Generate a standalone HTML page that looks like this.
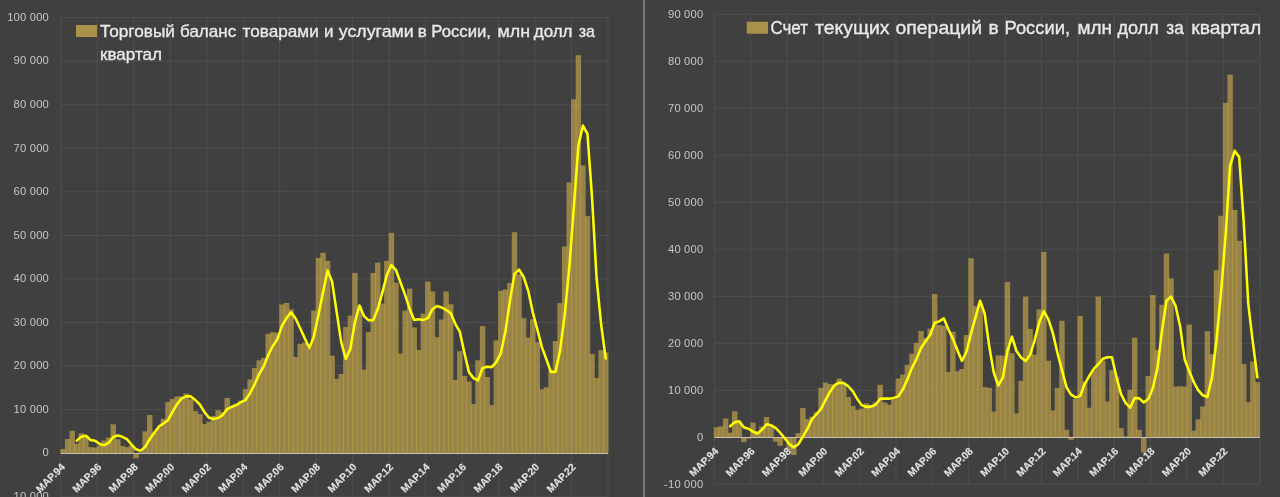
<!DOCTYPE html>
<html lang="ru"><head><meta charset="utf-8"><title>Торговый баланс и счет текущих операций России</title>
<style>html,body{margin:0;padding:0;background:#404040;overflow:hidden}svg{display:block;font-family:"Liberation Sans",sans-serif}</style>
</head><body>
<svg width="1280" height="497" viewBox="0 0 1280 497">
<rect width="1280" height="497" fill="#404040"/>
<svg x="0" y="0" width="643" height="497" viewBox="0 0 643 497" overflow="hidden">
<path d="M60.8 496.81H608M60.8 453.25H608M60.8 409.69H608M60.8 366.13H608M60.8 322.57H608M60.8 279.01H608M60.8 235.45H608M60.8 191.89H608M60.8 148.33H608M60.8 104.77H608M60.8 61.21H608M60.8 17.65H608M60.8 17.65V497M97.28 17.65V497M133.76 17.65V497M170.24 17.65V497M206.72 17.65V497M243.2 17.65V497M279.68 17.65V497M316.16 17.65V497M352.64 17.65V497M389.12 17.65V497M425.6 17.65V497M462.08 17.65V497M498.56 17.65V497M535.04 17.65V497M571.52 17.65V497M608 17.65V497" stroke="#4e4e4e" stroke-width="1" fill="none"/>
<g fill="rgb(186,158,72)" fill-opacity="0.72"><rect x="60.35" y="449.02" width="5.46" height="4.23"/><rect x="64.91" y="439.01" width="5.46" height="14.24"/><rect x="69.47" y="430.73" width="5.46" height="22.52"/><rect x="74.03" y="443.71" width="5.46" height="9.54"/><rect x="78.59" y="433.21" width="5.46" height="20.04"/><rect x="83.15" y="435.39" width="5.46" height="17.86"/><rect x="87.71" y="447.2" width="5.46" height="6.05"/><rect x="92.27" y="447.43" width="5.46" height="5.82"/><rect x="96.83" y="445.58" width="5.46" height="7.67"/><rect x="101.39" y="440.62" width="5.46" height="12.63"/><rect x="105.95" y="437.57" width="5.46" height="15.68"/><rect x="110.51" y="424.28" width="5.46" height="28.97"/><rect x="115.07" y="439.31" width="5.46" height="13.94"/><rect x="119.63" y="445.95" width="5.46" height="7.3"/><rect x="124.19" y="447.2" width="5.46" height="6.05"/><rect x="128.75" y="445.58" width="5.46" height="7.67"/><rect x="133.31" y="453.25" width="5.46" height="5.07"/><rect x="137.87" y="452.38" width="5.46" height="0.87"/><rect x="142.43" y="431.34" width="5.46" height="21.91"/><rect x="146.99" y="414.92" width="5.46" height="38.33"/><rect x="151.55" y="432.34" width="5.46" height="20.91"/><rect x="156.11" y="427.99" width="5.46" height="25.26"/><rect x="160.67" y="418.84" width="5.46" height="34.41"/><rect x="165.23" y="402.07" width="5.46" height="51.18"/><rect x="169.79" y="398.93" width="5.46" height="54.32"/><rect x="174.35" y="396.4" width="5.46" height="56.85"/><rect x="178.91" y="396.4" width="5.46" height="56.85"/><rect x="183.47" y="393.53" width="5.46" height="59.72"/><rect x="188.03" y="399.24" width="5.46" height="54.01"/><rect x="192.59" y="411.08" width="5.46" height="42.17"/><rect x="197.15" y="414.2" width="5.46" height="39.05"/><rect x="201.71" y="423.98" width="5.46" height="29.27"/><rect x="206.27" y="421.71" width="5.46" height="31.54"/><rect x="210.83" y="416.09" width="5.46" height="37.16"/><rect x="215.39" y="410.19" width="5.46" height="43.06"/><rect x="219.95" y="412.3" width="5.46" height="40.95"/><rect x="224.51" y="397.93" width="5.46" height="55.32"/><rect x="229.07" y="406.68" width="5.46" height="46.57"/><rect x="233.63" y="403.59" width="5.46" height="49.66"/><rect x="238.19" y="400.67" width="5.46" height="52.58"/><rect x="242.75" y="389.17" width="5.46" height="64.08"/><rect x="247.31" y="379.39" width="5.46" height="73.86"/><rect x="251.87" y="368.09" width="5.46" height="85.16"/><rect x="256.43" y="360.25" width="5.46" height="93"/><rect x="260.99" y="357.85" width="5.46" height="95.4"/><rect x="265.55" y="333.9" width="5.46" height="119.35"/><rect x="270.11" y="332.15" width="5.46" height="121.1"/><rect x="274.67" y="332.81" width="5.46" height="120.44"/><rect x="279.23" y="304.49" width="5.46" height="148.76"/><rect x="283.79" y="302.97" width="5.46" height="150.28"/><rect x="288.35" y="309.28" width="5.46" height="143.97"/><rect x="292.91" y="356.98" width="5.46" height="96.27"/><rect x="297.47" y="343.91" width="5.46" height="109.34"/><rect x="302.03" y="342.61" width="5.46" height="110.64"/><rect x="306.59" y="348.71" width="5.46" height="104.54"/><rect x="311.15" y="310.59" width="5.46" height="142.66"/><rect x="315.71" y="257.88" width="5.46" height="195.37"/><rect x="320.27" y="252.87" width="5.46" height="200.38"/><rect x="324.83" y="260.93" width="5.46" height="192.32"/><rect x="329.39" y="355.68" width="5.46" height="97.57"/><rect x="333.95" y="378.89" width="5.46" height="74.36"/><rect x="338.51" y="373.97" width="5.46" height="79.28"/><rect x="343.07" y="326.93" width="5.46" height="126.32"/><rect x="347.63" y="315.6" width="5.46" height="137.65"/><rect x="352.19" y="272.91" width="5.46" height="180.34"/><rect x="356.75" y="306.45" width="5.46" height="146.8"/><rect x="361.31" y="369.61" width="5.46" height="83.64"/><rect x="365.87" y="332.15" width="5.46" height="121.1"/><rect x="370.43" y="272.91" width="5.46" height="180.34"/><rect x="374.99" y="262.68" width="5.46" height="190.57"/><rect x="379.55" y="303.62" width="5.46" height="149.63"/><rect x="384.11" y="260.93" width="5.46" height="192.32"/><rect x="388.67" y="232.84" width="5.46" height="220.41"/><rect x="393.23" y="282.71" width="5.46" height="170.54"/><rect x="397.79" y="353.5" width="5.46" height="99.75"/><rect x="402.35" y="310.59" width="5.46" height="142.66"/><rect x="406.91" y="288.59" width="5.46" height="164.66"/><rect x="411.47" y="327.36" width="5.46" height="125.89"/><rect x="416.03" y="350.01" width="5.46" height="103.24"/><rect x="420.59" y="313.64" width="5.46" height="139.61"/><rect x="425.15" y="281.62" width="5.46" height="171.63"/><rect x="429.71" y="291.42" width="5.46" height="161.83"/><rect x="434.27" y="337.16" width="5.46" height="116.09"/><rect x="438.83" y="319.52" width="5.46" height="133.73"/><rect x="443.39" y="291.42" width="5.46" height="161.83"/><rect x="447.95" y="304.27" width="5.46" height="148.98"/><rect x="452.51" y="379.85" width="5.46" height="73.4"/><rect x="457.07" y="351.23" width="5.46" height="102.02"/><rect x="461.63" y="375.93" width="5.46" height="77.32"/><rect x="466.19" y="381.46" width="5.46" height="71.79"/><rect x="470.75" y="403.9" width="5.46" height="49.35"/><rect x="475.31" y="360.25" width="5.46" height="93"/><rect x="479.87" y="326.05" width="5.46" height="127.2"/><rect x="484.43" y="377.02" width="5.46" height="76.23"/><rect x="488.99" y="405.16" width="5.46" height="48.09"/><rect x="493.55" y="340.43" width="5.46" height="112.82"/><rect x="498.11" y="290.77" width="5.46" height="162.48"/><rect x="502.67" y="289.46" width="5.46" height="163.79"/><rect x="507.23" y="282.93" width="5.46" height="170.32"/><rect x="511.79" y="232.18" width="5.46" height="221.07"/><rect x="516.35" y="274.22" width="5.46" height="179.03"/><rect x="520.91" y="318.21" width="5.46" height="135.04"/><rect x="525.47" y="337.6" width="5.46" height="115.65"/><rect x="530.03" y="319.3" width="5.46" height="133.95"/><rect x="534.59" y="342.17" width="5.46" height="111.08"/><rect x="539.15" y="389.3" width="5.46" height="63.95"/><rect x="543.71" y="387.21" width="5.46" height="66.04"/><rect x="548.27" y="369.61" width="5.46" height="83.64"/><rect x="552.83" y="341.08" width="5.46" height="112.17"/><rect x="557.39" y="303.06" width="5.46" height="150.19"/><rect x="561.95" y="246.47" width="5.46" height="206.78"/><rect x="566.51" y="182.39" width="5.46" height="270.86"/><rect x="571.07" y="99.28" width="5.46" height="353.97"/><rect x="575.63" y="55.2" width="5.46" height="398.05"/><rect x="580.19" y="165.36" width="5.46" height="287.89"/><rect x="584.75" y="216.07" width="5.46" height="237.18"/><rect x="589.31" y="353.93" width="5.46" height="99.32"/><rect x="593.87" y="378.02" width="5.46" height="75.23"/><rect x="598.43" y="350.01" width="5.46" height="103.24"/><rect x="602.99" y="352.41" width="5.46" height="100.84"/></g>
<path d="M60.8 453.5H608" stroke="#d8d4c4" stroke-width="1" stroke-opacity=".85"/>
<path d="M76.76 440.62C76.76 440.62 81.32 436.66 81.32 436.66C81.32 436.66 85.88 435.76 85.88 435.76C85.88 435.76 90.44 439.88 90.44 439.88C90.44 439.88 95 440.81 95 440.81C95 440.81 99.56 443.9 99.56 443.9C99.56 443.9 104.12 445.21 104.12 445.21C104.12 445.21 108.68 442.8 108.68 442.8C108.68 442.8 113.24 437.01 113.24 437.01C113.24 437.01 117.8 435.44 117.8 435.44C117.8 435.44 122.36 436.78 122.36 436.78C122.36 436.78 126.92 439.19 126.92 439.19C126.92 439.19 131.48 444.51 131.48 444.51C131.48 444.51 136.04 449.26 136.04 449.26C136.04 449.26 140.6 450.87 140.6 450.87C140.6 450.87 145.16 446.91 145.16 446.91C145.16 446.91 149.72 439.24 149.72 439.24C149.72 439.24 154.28 432.74 154.28 432.74C154.28 432.74 158.84 426.65 158.84 426.65C158.84 426.65 163.4 423.52 163.4 423.52C163.4 423.52 167.96 420.31 167.96 420.31C167.96 420.31 172.52 411.96 172.52 411.96C172.52 411.96 177.08 404.06 177.08 404.06C177.08 404.06 181.64 398.45 181.64 398.45C181.64 398.45 186.2 396.32 186.2 396.32C186.2 396.32 190.76 396.39 190.76 396.39C190.76 396.39 195.32 400.06 195.32 400.06C195.32 400.06 199.88 404.51 199.88 404.51C199.88 404.51 204.44 412.12 204.44 412.12C204.44 412.12 209 417.74 209 417.74C209 417.74 213.56 419 213.56 419C213.56 419 218.12 417.99 218.12 417.99C218.12 417.99 222.68 415.08 222.68 415.08C222.68 415.08 227.24 409.13 227.24 409.13C227.24 409.13 231.8 406.78 231.8 406.78C231.8 406.78 236.36 405.13 236.36 405.13C236.36 405.13 240.92 402.22 240.92 402.22C240.92 402.22 245.48 400.03 245.48 400.03C245.48 400.03 250.04 393.21 250.04 393.21C250.04 393.21 254.6 384.33 254.6 384.33C254.6 384.33 259.16 374.23 259.16 374.23C259.16 374.23 263.72 366.4 263.72 366.4C263.72 366.4 268.28 355.02 268.28 355.02C268.28 355.02 272.84 346.04 272.84 346.04C272.84 346.04 277.4 339.18 277.4 339.18C277.4 339.18 281.96 325.84 281.96 325.84C281.96 325.84 286.52 318.11 286.52 318.11C286.52 318.11 291.08 312.39 291.08 312.39C291.08 312.39 295.64 318.43 295.64 318.43C295.64 318.43 300.2 328.29 300.2 328.29C300.2 328.29 304.76 338.2 304.76 338.2C304.76 338.2 309.32 348.05 309.32 348.05C309.32 348.05 313.88 336.45 313.88 336.45C313.88 336.45 318.44 314.95 318.44 314.95C318.44 314.95 323 292.51 323 292.51C323 292.51 327.56 270.57 327.56 270.57C327.56 270.57 332.12 281.84 332.12 281.84C332.12 281.84 336.68 312.09 336.68 312.09C336.68 312.09 341.24 342.37 341.24 342.37C341.24 342.37 345.8 358.87 345.8 358.87C345.8 358.87 350.36 348.85 350.36 348.85C350.36 348.85 354.92 322.35 354.92 322.35C354.92 322.35 359.48 305.47 359.48 305.47C359.48 305.47 364.04 316.14 364.04 316.14C364.04 316.14 368.6 320.28 368.6 320.28C368.6 320.28 373.16 320.28 373.16 320.28C373.16 320.28 377.72 309.34 377.72 309.34C377.72 309.34 382.28 292.84 382.28 292.84C382.28 292.84 386.84 275.04 386.84 275.04C386.84 275.04 391.4 265.02 391.4 265.02C391.4 265.02 395.96 270.03 395.96 270.03C395.96 270.03 400.52 282.49 400.52 282.49C400.52 282.49 405.08 294.91 405.08 294.91C405.08 294.91 409.64 308.85 409.64 308.85C409.64 308.85 414.2 320.01 414.2 320.01C414.2 320.01 418.76 319.14 418.76 319.14C418.76 319.14 423.32 319.9 423.32 319.9C423.32 319.9 427.88 318.16 427.88 318.16C427.88 318.16 432.44 309.18 432.44 309.18C432.44 309.18 437 305.96 437 305.96C437 305.96 441.56 307.43 441.56 307.43C441.56 307.43 446.12 309.88 446.12 309.88C446.12 309.88 450.68 313.1 450.68 313.1C450.68 313.1 455.24 323.77 455.24 323.77C455.24 323.77 459.8 331.7 459.8 331.7C459.8 331.7 464.36 352.82 464.36 352.82C464.36 352.82 468.92 372.12 468.92 372.12C468.92 372.12 473.48 378.13 473.48 378.13C473.48 378.13 478.04 380.39 478.04 380.39C478.04 380.39 482.6 367.92 482.6 367.92C482.6 367.92 487.16 366.81 487.16 366.81C487.16 366.81 491.72 367.12 491.72 367.12C491.72 367.12 496.28 362.17 496.28 362.17C496.28 362.17 500.84 353.35 500.84 353.35C500.84 353.35 505.4 331.46 505.4 331.46C505.4 331.46 509.96 300.9 509.96 300.9C509.96 300.9 514.52 273.84 514.52 273.84C514.52 273.84 519.08 269.7 519.08 269.7C519.08 269.7 523.64 276.89 523.64 276.89C523.64 276.89 528.2 290.55 528.2 290.55C528.2 290.55 532.76 312.33 532.76 312.33C532.76 312.33 537.32 329.32 537.32 329.32C537.32 329.32 541.88 347.09 541.88 347.09C541.88 347.09 546.44 359.5 546.44 359.5C546.44 359.5 551 372.08 551 372.08C551 372.08 555.56 371.8 555.56 371.8C555.56 371.8 560.12 350.24 560.12 350.24C560.12 350.24 564.68 315.06 564.68 315.06C564.68 315.06 569.24 268.25 569.24 268.25C569.24 268.25 573.8 207.8 573.8 207.8C573.8 207.8 578.36 145.84 578.36 145.84C578.36 145.84 582.92 125.56 582.92 125.56C582.92 125.56 587.48 133.98 587.48 133.98C587.48 133.98 592.04 197.64 592.04 197.64C592.04 197.64 596.6 278.35 596.6 278.35C596.6 278.35 601.16 324.51 601.16 324.51C601.16 324.51 605.72 358.59 605.72 358.59" stroke="#ffff00" stroke-width="2.55" fill="none" stroke-linejoin="round" stroke-linecap="round"/>
<g font-size="11.2" fill="#c6c6c6" text-anchor="end" letter-spacing=".2"><text x="49" y="500.01">-10 000</text><text x="49" y="456.45">0</text><text x="49" y="412.89">10 000</text><text x="49" y="369.33">20 000</text><text x="49" y="325.77">30 000</text><text x="49" y="282.21">40 000</text><text x="49" y="238.65">50 000</text><text x="49" y="195.09">60 000</text><text x="49" y="151.53">70 000</text><text x="49" y="107.97">80 000</text><text x="49" y="64.41">90 000</text><text x="49" y="20.85">100 000</text></g>
<g font-size="10.4" font-weight="bold" fill="#e2e2e2" stroke="#e2e2e2" stroke-width=".12" text-anchor="end"><text transform="translate(65.6 467.75) rotate(-45)">МАР.94</text><text transform="translate(102.08 467.75) rotate(-45)">МАР.96</text><text transform="translate(138.56 467.75) rotate(-45)">МАР.98</text><text transform="translate(175.04 467.75) rotate(-45)">МАР.00</text><text transform="translate(211.52 467.75) rotate(-45)">МАР.02</text><text transform="translate(248 467.75) rotate(-45)">МАР.04</text><text transform="translate(284.48 467.75) rotate(-45)">МАР.06</text><text transform="translate(320.96 467.75) rotate(-45)">МАР.08</text><text transform="translate(357.44 467.75) rotate(-45)">МАР.10</text><text transform="translate(393.92 467.75) rotate(-45)">МАР.12</text><text transform="translate(430.4 467.75) rotate(-45)">МАР.14</text><text transform="translate(466.88 467.75) rotate(-45)">МАР.16</text><text transform="translate(503.36 467.75) rotate(-45)">МАР.18</text><text transform="translate(539.84 467.75) rotate(-45)">МАР.20</text><text transform="translate(576.32 467.75) rotate(-45)">МАР.22</text></g>
<rect x="76" y="25" width="21" height="12" fill="#a99149"/>
<g font-size="17" fill="#e9e9e9" stroke="#e9e9e9" stroke-width=".35"><text x="100" y="37" textLength="75" lengthAdjust="spacingAndGlyphs">Торговый</text><text x="180" y="37" textLength="56.25" lengthAdjust="spacingAndGlyphs">баланс</text><text x="242.5" y="37" textLength="76.25" lengthAdjust="spacingAndGlyphs">товарами</text><text x="328.75" y="37" text-anchor="middle">и</text><text x="338.75" y="37" textLength="75" lengthAdjust="spacingAndGlyphs">услугами</text><text x="422.38" y="37" text-anchor="middle">в</text><text x="431.25" y="37" textLength="59.75" lengthAdjust="spacingAndGlyphs">России,</text><text x="497.5" y="37" textLength="32.5" lengthAdjust="spacingAndGlyphs">млн</text><text x="533.75" y="37" textLength="38.75" lengthAdjust="spacingAndGlyphs">долл</text><text x="578.75" y="37" textLength="16.25" lengthAdjust="spacingAndGlyphs">за</text><text x="100" y="59.75" textLength="62" lengthAdjust="spacingAndGlyphs">квартал</text></g>
</svg>
<rect x="643" y="0" width="2" height="497" fill="#787878"/>
<svg x="645" y="0" width="635" height="497" viewBox="645 0 635 497" overflow="hidden">
<path d="M714.25 484.3H1259.65M714.25 437.3H1259.65M714.25 390.3H1259.65M714.25 343.3H1259.65M714.25 296.3H1259.65M714.25 249.3H1259.65M714.25 202.3H1259.65M714.25 155.3H1259.65M714.25 108.3H1259.65M714.25 61.3H1259.65M714.25 14.3H1259.65M714.25 14.3V484.3M750.61 14.3V484.3M786.97 14.3V484.3M823.33 14.3V484.3M859.69 14.3V484.3M896.05 14.3V484.3M932.41 14.3V484.3M968.77 14.3V484.3M1005.13 14.3V484.3M1041.49 14.3V484.3M1077.85 14.3V484.3M1114.21 14.3V484.3M1150.57 14.3V484.3M1186.93 14.3V484.3M1223.29 14.3V484.3M1259.65 14.3V484.3" stroke="#4e4e4e" stroke-width="1" fill="none"/>
<g fill="rgb(186,158,72)" fill-opacity="0.72"><rect x="713.8" y="427.29" width="5.45" height="10.01"/><rect x="718.34" y="426.4" width="5.45" height="10.9"/><rect x="722.89" y="418.5" width="5.45" height="18.8"/><rect x="727.43" y="432.67" width="5.45" height="4.63"/><rect x="731.98" y="411.26" width="5.45" height="26.04"/><rect x="736.52" y="422.97" width="5.45" height="14.33"/><rect x="741.07" y="437.3" width="5.45" height="4.75"/><rect x="745.62" y="437.3" width="5.45" height="1.27"/><rect x="750.16" y="422.52" width="5.45" height="14.78"/><rect x="754.7" y="431.19" width="5.45" height="6.11"/><rect x="759.25" y="426.49" width="5.45" height="10.81"/><rect x="763.79" y="417" width="5.45" height="20.3"/><rect x="768.34" y="426.49" width="5.45" height="10.81"/><rect x="772.88" y="437.3" width="5.45" height="4.37"/><rect x="777.43" y="437.3" width="5.45" height="8.51"/><rect x="781.97" y="437.3" width="5.45" height="1.41"/><rect x="786.52" y="437.3" width="5.45" height="12.69"/><rect x="791.06" y="437.3" width="5.45" height="17.77"/><rect x="795.61" y="433.16" width="5.45" height="4.14"/><rect x="800.15" y="408.07" width="5.45" height="29.23"/><rect x="804.7" y="419.16" width="5.45" height="18.14"/><rect x="809.24" y="416.62" width="5.45" height="20.68"/><rect x="813.79" y="412.39" width="5.45" height="24.91"/><rect x="818.33" y="387.72" width="5.45" height="49.58"/><rect x="822.88" y="382.55" width="5.45" height="54.75"/><rect x="827.42" y="384.17" width="5.45" height="53.13"/><rect x="831.97" y="385.6" width="5.45" height="51.7"/><rect x="836.51" y="378.53" width="5.45" height="58.77"/><rect x="841.06" y="383.72" width="5.45" height="53.58"/><rect x="845.61" y="397.07" width="5.45" height="40.23"/><rect x="850.15" y="406.09" width="5.45" height="31.21"/><rect x="854.69" y="409.81" width="5.45" height="27.5"/><rect x="859.24" y="408.54" width="5.45" height="28.76"/><rect x="863.78" y="403.32" width="5.45" height="33.98"/><rect x="868.33" y="404.87" width="5.45" height="32.43"/><rect x="872.88" y="402.33" width="5.45" height="34.97"/><rect x="877.42" y="384.8" width="5.45" height="52.5"/><rect x="881.96" y="402.57" width="5.45" height="34.73"/><rect x="886.51" y="404.87" width="5.45" height="32.43"/><rect x="891.05" y="399.47" width="5.45" height="37.83"/><rect x="895.6" y="378.46" width="5.45" height="58.84"/><rect x="900.14" y="374.7" width="5.45" height="62.6"/><rect x="904.69" y="364.78" width="5.45" height="72.52"/><rect x="909.23" y="353.64" width="5.45" height="83.66"/><rect x="913.78" y="342.83" width="5.45" height="94.47"/><rect x="918.32" y="330.99" width="5.45" height="106.31"/><rect x="922.87" y="337.75" width="5.45" height="99.55"/><rect x="927.41" y="328.54" width="5.45" height="108.76"/><rect x="931.96" y="294.04" width="5.45" height="143.26"/><rect x="936.5" y="325.02" width="5.45" height="112.28"/><rect x="941.05" y="325.68" width="5.45" height="111.62"/><rect x="945.59" y="371.97" width="5.45" height="65.33"/><rect x="950.14" y="331.79" width="5.45" height="105.51"/><rect x="954.68" y="371.26" width="5.45" height="66.04"/><rect x="959.23" y="368.96" width="5.45" height="68.34"/><rect x="963.77" y="335.08" width="5.45" height="102.22"/><rect x="968.32" y="258.23" width="5.45" height="179.07"/><rect x="972.87" y="306.17" width="5.45" height="131.13"/><rect x="977.41" y="303.35" width="5.45" height="133.95"/><rect x="981.95" y="387.15" width="5.45" height="50.15"/><rect x="986.5" y="387.79" width="5.45" height="49.51"/><rect x="991.04" y="411.59" width="5.45" height="25.71"/><rect x="995.59" y="355.47" width="5.45" height="81.83"/><rect x="1000.13" y="355.71" width="5.45" height="81.59"/><rect x="1004.68" y="282.01" width="5.45" height="155.29"/><rect x="1009.22" y="353.22" width="5.45" height="84.08"/><rect x="1013.77" y="413.47" width="5.45" height="23.83"/><rect x="1018.31" y="380.9" width="5.45" height="56.4"/><rect x="1022.86" y="296.58" width="5.45" height="140.72"/><rect x="1027.4" y="328.92" width="5.45" height="108.38"/><rect x="1031.95" y="354.72" width="5.45" height="82.58"/><rect x="1036.49" y="309.46" width="5.45" height="127.84"/><rect x="1041.04" y="251.98" width="5.45" height="185.32"/><rect x="1045.58" y="360.69" width="5.45" height="76.61"/><rect x="1050.13" y="410.46" width="5.45" height="26.84"/><rect x="1054.67" y="387.81" width="5.45" height="49.49"/><rect x="1059.22" y="320.83" width="5.45" height="116.47"/><rect x="1063.76" y="429.78" width="5.45" height="7.52"/><rect x="1068.31" y="437.3" width="5.45" height="2.49"/><rect x="1072.86" y="399.07" width="5.45" height="38.23"/><rect x="1077.4" y="315.85" width="5.45" height="121.45"/><rect x="1081.94" y="381.51" width="5.45" height="55.79"/><rect x="1086.49" y="407.78" width="5.45" height="29.52"/><rect x="1091.04" y="370.25" width="5.45" height="67.05"/><rect x="1095.58" y="296.54" width="5.45" height="140.76"/><rect x="1100.12" y="360.69" width="5.45" height="76.61"/><rect x="1104.67" y="401.39" width="5.45" height="35.91"/><rect x="1109.21" y="370.23" width="5.45" height="67.07"/><rect x="1113.76" y="376.53" width="5.45" height="60.77"/><rect x="1118.31" y="428.16" width="5.45" height="9.14"/><rect x="1122.85" y="436.36" width="5.45" height="0.94"/><rect x="1127.39" y="389.69" width="5.45" height="47.61"/><rect x="1131.94" y="337.66" width="5.45" height="99.64"/><rect x="1136.48" y="429.78" width="5.45" height="7.52"/><rect x="1141.03" y="437.3" width="5.45" height="15.27"/><rect x="1145.58" y="375.89" width="5.45" height="61.41"/><rect x="1150.12" y="295.08" width="5.45" height="142.22"/><rect x="1154.66" y="349.88" width="5.45" height="87.42"/><rect x="1159.21" y="304.76" width="5.45" height="132.54"/><rect x="1163.75" y="253.53" width="5.45" height="183.77"/><rect x="1168.3" y="278.3" width="5.45" height="159"/><rect x="1172.85" y="386.54" width="5.45" height="50.76"/><rect x="1177.39" y="386.31" width="5.45" height="51"/><rect x="1181.93" y="386.54" width="5.45" height="50.76"/><rect x="1186.48" y="324.59" width="5.45" height="112.71"/><rect x="1191.02" y="430.67" width="5.45" height="6.63"/><rect x="1195.57" y="419.3" width="5.45" height="18"/><rect x="1200.12" y="406.51" width="5.45" height="30.79"/><rect x="1204.66" y="331.22" width="5.45" height="106.08"/><rect x="1209.2" y="354.35" width="5.45" height="82.95"/><rect x="1213.75" y="270.07" width="5.45" height="167.23"/><rect x="1218.29" y="215.74" width="5.45" height="221.56"/><rect x="1222.84" y="102.8" width="5.45" height="334.5"/><rect x="1227.38" y="74.74" width="5.45" height="362.56"/><rect x="1231.93" y="209.96" width="5.45" height="227.34"/><rect x="1236.47" y="240.79" width="5.45" height="196.51"/><rect x="1241.02" y="363.98" width="5.45" height="73.32"/><rect x="1245.56" y="402.14" width="5.45" height="35.16"/><rect x="1250.11" y="361.49" width="5.45" height="75.81"/><rect x="1254.65" y="382.12" width="5.45" height="55.18"/></g>
<path d="M714.25 437.5H1259.65" stroke="#d8d4c4" stroke-width="1" stroke-opacity=".85"/>
<path d="M730.16 426.21C730.16 426.21 734.7 422.21 734.7 422.21C734.7 422.21 739.25 421.35 739.25 421.35C739.25 421.35 743.79 427.24 743.79 427.24C743.79 427.24 748.34 428.71 748.34 428.71C748.34 428.71 752.88 431.52 752.88 431.52C752.88 431.52 757.43 433.58 757.43 433.58C757.43 433.58 761.97 429.69 761.97 429.69C761.97 429.69 766.52 424.3 766.52 424.3C766.52 424.3 771.06 425.29 771.06 425.29C771.06 425.29 775.61 427.91 775.61 427.91C775.61 427.91 780.15 432.74 780.15 432.74C780.15 432.74 784.7 438.17 784.7 438.17C784.7 438.17 789.24 444.04 789.24 444.04C789.24 444.04 793.79 447.39 793.79 447.39C793.79 447.39 798.33 444.23 798.33 444.23C798.33 444.23 802.88 436.57 802.88 436.57C802.88 436.57 807.42 428.86 807.42 428.86C807.42 428.86 811.97 419.25 811.97 419.25C811.97 419.25 816.51 414.06 816.51 414.06C816.51 414.06 821.06 408.97 821.06 408.97C821.06 408.97 825.6 399.82 825.6 399.82C825.6 399.82 830.15 391.7 830.15 391.7C830.15 391.7 834.69 385.01 834.69 385.01C834.69 385.01 839.24 382.71 839.24 382.71C839.24 382.71 843.78 383 843.78 383C843.78 383 848.33 386.23 848.33 386.23C848.33 386.23 852.87 391.35 852.87 391.35C852.87 391.35 857.42 399.17 857.42 399.17C857.42 399.17 861.96 405.38 861.96 405.38C861.96 405.38 866.51 406.94 866.51 406.94C866.51 406.94 871.05 406.63 871.05 406.63C871.05 406.63 875.6 404.76 875.6 404.76C875.6 404.76 880.14 398.83 880.14 398.83C880.14 398.83 884.69 398.64 884.69 398.64C884.69 398.64 889.23 398.64 889.23 398.64C889.23 398.64 893.78 397.93 893.78 397.93C893.78 397.93 898.32 396.34 898.32 396.34C898.32 396.34 902.87 389.37 902.87 389.37C902.87 389.37 907.41 379.35 907.41 379.35C907.41 379.35 911.96 367.89 911.96 367.89C911.96 367.89 916.5 358.99 916.5 358.99C916.5 358.99 921.05 348.06 921.05 348.06C921.05 348.06 925.59 341.3 925.59 341.3C925.59 341.3 930.14 335.03 930.14 335.03C930.14 335.03 934.68 322.83 934.68 322.83C934.68 322.83 939.23 321.34 939.23 321.34C939.23 321.34 943.77 318.32 943.77 318.32C943.77 318.32 948.32 329.18 948.32 329.18C948.32 329.18 952.86 338.61 952.86 338.61C952.86 338.61 957.41 350.17 957.41 350.17C957.41 350.17 961.95 361 961.95 361C961.95 361 966.5 351.77 966.5 351.77C966.5 351.77 971.04 333.38 971.04 333.38C971.04 333.38 975.59 317.11 975.59 317.11C975.59 317.11 980.13 300.71 980.13 300.71C980.13 300.71 984.68 313.73 984.68 313.73C984.68 313.73 989.22 346.11 989.22 346.11C989.22 346.11 993.77 372.47 993.77 372.47C993.77 372.47 998.31 385.5 998.31 385.5C998.31 385.5 1002.86 377.64 1002.86 377.64C1002.86 377.64 1007.4 351.2 1007.4 351.2C1007.4 351.2 1011.95 336.6 1011.95 336.6C1011.95 336.6 1016.49 351.1 1016.49 351.1C1016.49 351.1 1021.04 357.4 1021.04 357.4C1021.04 357.4 1025.58 361.04 1025.58 361.04C1025.58 361.04 1030.13 354.97 1030.13 354.97C1030.13 354.97 1034.67 340.28 1034.67 340.28C1034.67 340.28 1039.22 322.42 1039.22 322.42C1039.22 322.42 1043.76 311.27 1043.76 311.27C1043.76 311.27 1048.31 319.21 1048.31 319.21C1048.31 319.21 1052.85 333.15 1052.85 333.15C1052.85 333.15 1057.4 352.74 1057.4 352.74C1057.4 352.74 1061.94 369.95 1061.94 369.95C1061.94 369.95 1066.49 387.22 1066.49 387.22C1066.49 387.22 1071.03 394.55 1071.03 394.55C1071.03 394.55 1075.58 397.37 1075.58 397.37C1075.58 397.37 1080.12 396.12 1080.12 396.12C1080.12 396.12 1084.67 384.05 1084.67 384.05C1084.67 384.05 1089.21 376.05 1089.21 376.05C1089.21 376.05 1093.76 368.85 1093.76 368.85C1093.76 368.85 1098.3 364.02 1098.3 364.02C1098.3 364.02 1102.85 358.82 1102.85 358.82C1102.85 358.82 1107.39 357.22 1107.39 357.22C1107.39 357.22 1111.94 357.21 1111.94 357.21C1111.94 357.21 1116.48 377.21 1116.48 377.21C1116.48 377.21 1121.03 394.08 1121.03 394.08C1121.03 394.08 1125.57 402.82 1125.57 402.82C1125.57 402.82 1130.12 407.68 1130.12 407.68C1130.12 407.68 1134.66 397.97 1134.66 397.97C1134.66 397.97 1139.21 398.37 1139.21 398.37C1139.21 398.37 1143.75 402.43 1143.75 402.43C1143.75 402.43 1148.3 398.98 1148.3 398.98C1148.3 398.98 1152.84 388.33 1152.84 388.33C1152.84 388.33 1157.39 368.36 1157.39 368.36C1157.39 368.36 1161.93 331.4 1161.93 331.4C1161.93 331.4 1166.48 300.81 1166.48 300.81C1166.48 300.81 1171.02 296.62 1171.02 296.62C1171.02 296.62 1175.57 305.78 1175.57 305.78C1175.57 305.78 1180.11 326.17 1180.11 326.17C1180.11 326.17 1184.66 359.42 1184.66 359.42C1184.66 359.42 1189.2 370.99 1189.2 370.99C1189.2 370.99 1193.75 382.03 1193.75 382.03C1193.75 382.03 1198.29 390.28 1198.29 390.28C1198.29 390.28 1202.84 395.27 1202.84 395.27C1202.84 395.27 1207.38 396.93 1207.38 396.93C1207.38 396.93 1211.93 377.85 1211.93 377.85C1211.93 377.85 1216.47 340.54 1216.47 340.54C1216.47 340.54 1221.02 292.85 1221.02 292.85C1221.02 292.85 1225.56 235.74 1225.56 235.74C1225.56 235.74 1230.11 165.84 1230.11 165.84C1230.11 165.84 1234.65 150.81 1234.65 150.81C1234.65 150.81 1239.2 157.07 1239.2 157.07C1239.2 157.07 1243.74 222.37 1243.74 222.37C1243.74 222.37 1248.29 304.22 1248.29 304.22C1248.29 304.22 1252.83 342.1 1252.83 342.1C1252.83 342.1 1257.38 377.43 1257.38 377.43" stroke="#ffff00" stroke-width="2.55" fill="none" stroke-linejoin="round" stroke-linecap="round"/>
<g font-size="11.2" fill="#c6c6c6" text-anchor="end" letter-spacing=".2"><text x="703.4" y="488.4">-10 000</text><text x="703.4" y="441.4">0</text><text x="703.4" y="394.4">10 000</text><text x="703.4" y="347.4">20 000</text><text x="703.4" y="300.4">30 000</text><text x="703.4" y="253.4">40 000</text><text x="703.4" y="206.4">50 000</text><text x="703.4" y="159.4">60 000</text><text x="703.4" y="112.4">70 000</text><text x="703.4" y="65.4">80 000</text><text x="703.4" y="18.4">90 000</text></g>
<g font-size="10.4" font-weight="bold" fill="#e2e2e2" stroke="#e2e2e2" stroke-width=".12" text-anchor="end"><text transform="translate(719.05 451.8) rotate(-45)">МАР.94</text><text transform="translate(755.41 451.8) rotate(-45)">МАР.96</text><text transform="translate(791.77 451.8) rotate(-45)">МАР.98</text><text transform="translate(828.13 451.8) rotate(-45)">МАР.00</text><text transform="translate(864.49 451.8) rotate(-45)">МАР.02</text><text transform="translate(900.85 451.8) rotate(-45)">МАР.04</text><text transform="translate(937.21 451.8) rotate(-45)">МАР.06</text><text transform="translate(973.57 451.8) rotate(-45)">МАР.08</text><text transform="translate(1009.93 451.8) rotate(-45)">МАР.10</text><text transform="translate(1046.29 451.8) rotate(-45)">МАР.12</text><text transform="translate(1082.65 451.8) rotate(-45)">МАР.14</text><text transform="translate(1119.01 451.8) rotate(-45)">МАР.16</text><text transform="translate(1155.37 451.8) rotate(-45)">МАР.18</text><text transform="translate(1191.73 451.8) rotate(-45)">МАР.20</text><text transform="translate(1228.09 451.8) rotate(-45)">МАР.22</text></g>
<rect x="746.75" y="21.75" width="21.25" height="12" fill="#a99149"/>
<g font-size="19.2" fill="#e9e9e9" stroke="#e9e9e9" stroke-width=".35"><text x="770.5" y="33.5" textLength="37.5" lengthAdjust="spacingAndGlyphs">Счет</text><text x="815" y="33.5" textLength="74.5" lengthAdjust="spacingAndGlyphs">текущих</text><text x="895.5" y="33.5" textLength="86.5" lengthAdjust="spacingAndGlyphs">операций</text><text x="993.5" y="33.5" text-anchor="middle">в</text><text x="1004.5" y="33.5" textLength="65.5" lengthAdjust="spacingAndGlyphs">России,</text><text x="1077.5" y="33.5" textLength="34.5" lengthAdjust="spacingAndGlyphs">млн</text><text x="1117.5" y="33.5" textLength="41.25" lengthAdjust="spacingAndGlyphs">долл</text><text x="1166.25" y="33.5" textLength="17.5" lengthAdjust="spacingAndGlyphs">за</text><text x="1191.25" y="33.5" textLength="70" lengthAdjust="spacingAndGlyphs">квартал</text></g>
</svg>
</svg>
</body></html>
